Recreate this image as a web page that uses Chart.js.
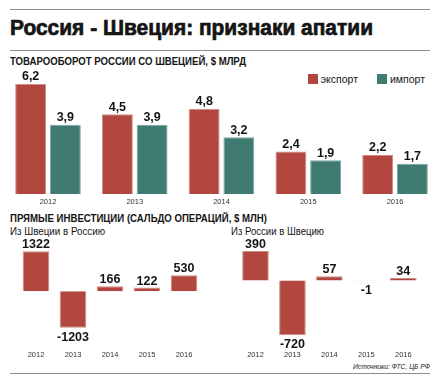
<!DOCTYPE html>
<html><head><meta charset="utf-8">
<script src="https://cdn.jsdelivr.net/npm/chart.js@4/dist/chart.umd.min.js"></script>
<style>
html,body{margin:0;padding:0;background:#fff;}
body{width:442px;height:380px;position:relative;overflow:hidden;font-family:"Liberation Sans",Arial,sans-serif;color:#151515;}
.hr{position:absolute;left:10px;width:420px;height:1px;background:#8c8c8c;}
.t{position:absolute;white-space:nowrap;line-height:1;}
.fit{display:inline-block;transform-origin:0 50%;}
canvas{position:absolute;}
.lg{position:absolute;font-size:10.5px;line-height:1;white-space:nowrap;}
.lg i{display:inline-block;width:10px;height:10px;vertical-align:-1px;margin-right:3px;}
</style></head>
<body>
<div class="hr" style="top:9px"></div>
<div class="t" id="title" style="left:10px;top:17px;font-size:22px;font-weight:bold;-webkit-text-stroke:0.7px #151515;"><span class="fit" data-w="363">Россия - Швеция: признаки апатии</span></div>
<div class="hr" style="top:50px"></div>
<div class="t" style="left:10px;top:56px;font-size:10.5px;font-weight:bold;"><span class="fit" data-w="236">ТОВАРООБОРОТ РОССИИ СО ШВЕЦИЕЙ, $ МЛРД</span></div>
<div id="legend"></div>
<canvas id="c1" width="442" height="150" style="left:0;top:60px"></canvas>
<div class="t" style="left:10px;top:213px;font-size:10.5px;font-weight:bold;"><span class="fit" data-w="257">ПРЯМЫЕ ИНВЕСТИЦИИ (САЛЬДО ОПЕРАЦИЙ, $ МЛН)</span></div>
<div class="t" style="left:10px;top:226px;font-size:10.5px;"><span class="fit" data-w="95">Из Швеции в Россию</span></div>
<div class="t" style="left:231px;top:226px;font-size:10.5px;"><span class="fit" data-w="93">Из России в Швецию</span></div>
<canvas id="c2" width="220" height="126" style="left:0;top:236px"></canvas>
<canvas id="c3" width="221" height="126" style="left:221px;top:236px"></canvas>
<div class="t" style="left:353px;top:362.5px;font-size:7.5px;font-style:italic;"><span class="fit" data-w="77">Источники: ФТС, ЦБ РФ</span></div>
<div class="hr" style="top:373px"></div>
<script>
// ---- data ----
const years = ['2012', '2013', '2014', '2015', '2016'];
const seriesNames = ['экспорт', 'импорт'];
const exportVals = [6.2, 4.5, 4.8, 2.4, 2.2];
const importVals = [3.9, 3.9, 3.2, 1.9, 1.7];
const fdiSwedenToRussia = [1322, -1203, 166, 122, 530];
const fdiRussiaToSweden = [390, -720, 57, -1, 34];

const RED = '#b1473f', RED_B = '#cf8a84';
const TEAL = '#3f7b70', TEAL_B = '#7ba79f';

// fit headings to width
document.querySelectorAll('.fit').forEach(el => {
  const w = el.getBoundingClientRect().width;
  el.style.transform = 'scaleX(' + (parseFloat(el.dataset.w) / w) + ')';
});

// legend
const lg = document.getElementById('legend');
[[seriesNames[0], RED, 307.7], [seriesNames[1], TEAL, 377]].forEach(([n, c, x]) => {
  const d = document.createElement('div');
  d.className = 'lg';
  d.style.left = x + 'px';
  d.style.top = '73.5px';
  d.innerHTML = '<i style="background:' + c + '"></i>' + n;
  lg.appendChild(d);
});

const valueLabels = {
  id: 'valueLabels',
  afterDatasetsDraw(chart, args, opts) {
    const ctx = chart.ctx;
    ctx.save();
    ctx.font = 'bold 12.5px "Liberation Sans", Arial, sans-serif';
    ctx.fillStyle = '#141414';
    ctx.textAlign = 'center';
    ctx.textBaseline = 'middle';
    chart.data.datasets.forEach((ds, i) => {
      const meta = chart.getDatasetMeta(i);
      meta.data.forEach((el, j) => {
        const v = ds.data[j];
        const txt = opts.decimals ? v.toFixed(1).replace('.', ',') : String(v);
        const y = v >= 0 ? el.y - opts.above : el.y + opts.below;
        ctx.fillText(txt, el.x, y);
      });
    });
    ctx.restore();
  }
};

Chart.defaults.font.family = '"Liberation Sans", Arial, sans-serif';
Chart.defaults.color = '#333';

function xAxis(pad) {
  return {
    grid: { display: false, drawTicks: false },
    border: { display: false },
    ticks: { font: { size: 7.5 }, color: '#333', padding: pad, maxRotation: 0, autoSkip: false }
  };
}

new Chart(document.getElementById('c1'), {
  type: 'bar',
  data: {
    labels: years,
    datasets: [
      { label: seriesNames[0], data: exportVals, backgroundColor: RED, borderColor: RED_B, borderWidth: 1 },
      { label: seriesNames[1], data: importVals, backgroundColor: TEAL, borderColor: TEAL_B, borderWidth: 1 }
    ]
  },
  options: {
    responsive: false, animation: false, devicePixelRatio: 1,
    layout: { padding: { left: 4.6, right: 3.6, top: 0, bottom: 0 } },
    categoryPercentage: 0.80, barPercentage: 0.89,
    plugins: { legend: { display: false }, tooltip: { enabled: false }, valueLabels: { decimals: true, above: 7, below: 9 } },
    scales: {
      x: xAxis(3.5),
      y: { display: false, min: 0, max: 7.55 }
    }
  },
  plugins: [valueLabels]
});

function fdiChart(id, data, min, max, padL, padR) {
  new Chart(document.getElementById(id), {
    type: 'bar',
    data: { labels: years, datasets: [{ data: data, backgroundColor: RED, borderColor: RED_B, borderWidth: 1 }] },
    options: {
      responsive: false, animation: false, devicePixelRatio: 1,
      layout: { padding: { left: padL, right: padR, top: 4, bottom: 0 } },
      categoryPercentage: 0.8, barPercentage: 0.9,
      plugins: { legend: { display: false }, tooltip: { enabled: false }, valueLabels: { decimals: false, above: 6.5, below: 9.5 } },
      scales: { x: xAxis(3), y: { display: false, min: min, max: max } }
    },
    plugins: [valueLabels]
  });
}
fdiChart('c2', fdiSwedenToRussia, -1837, 1689, 17.5, 17.5);
fdiChart('c3', fdiRussiaToSweden, -876, 535, 16, 20.2);
</script>
</body></html>
